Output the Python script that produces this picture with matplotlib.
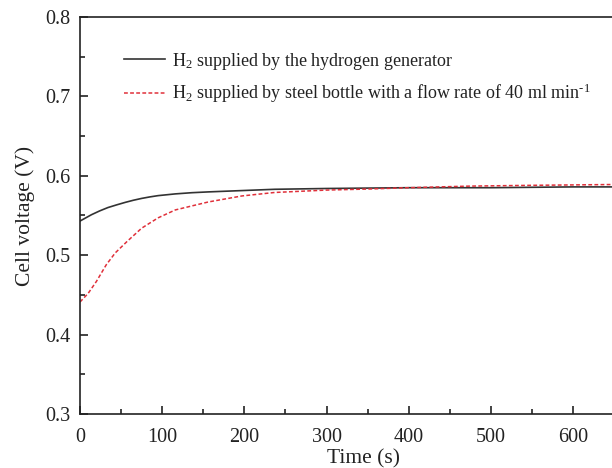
import numpy as np
import matplotlib
matplotlib.use("Agg")
import matplotlib.pyplot as plt
from matplotlib.ticker import MultipleLocator

plt.rcParams['font.family'] = ['Liberation Serif', 'DejaVu Serif']
plt.rcParams['mathtext.fontset'] = 'custom'
plt.rcParams['mathtext.rm'] = 'Liberation Serif'
plt.rcParams['mathtext.it'] = 'Liberation Serif:italic'

# hydrogen generator
t_gen = [0, 7, 14, 24, 34, 45, 55, 65, 75, 85, 95, 116, 136, 156, 200, 237,
         300, 400, 500, 600, 690]
v_gen = [0.543, 0.547, 0.551, 0.5558, 0.560, 0.5635, 0.5665, 0.5692,
         0.5715, 0.5734, 0.575, 0.5772, 0.5787, 0.5797, 0.5815, 0.583,
         0.584, 0.585, 0.585, 0.586, 0.586]

# steel bottle, 40 ml/min
t_bot = [0, 10, 20, 32, 43, 57, 75, 95, 116, 156, 197, 237, 300, 353, 400,
         474, 550, 647, 690]
v_bot = [0.441, 0.452, 0.467, 0.488, 0.503, 0.517, 0.534, 0.547, 0.557,
         0.567, 0.5746, 0.579, 0.582, 0.5834, 0.585, 0.587, 0.588, 0.589,
         0.589]

label_gen = "H$_2$ supplied by the hydrogen generator"
label_bot = "H$_2$ supplied by steel bottle with a flow rate of 40 ml min$^{\\text{-1}}$"

fig = plt.figure(figsize=(6.12, 4.68), dpi=100)
ax = fig.add_axes([0.1307, 0.1154, 0.9265, 0.8483])

ax.plot(t_gen, v_gen, color='#333333', linewidth=1.2, label=label_gen)
ax.plot(t_bot, v_bot, color='#e0303a', linewidth=1.1,
        linestyle=(0, (2.5, 1.5)), label=label_bot)

ax.set_xlim(0, 690)
ax.set_ylim(0.3, 0.8)
ax.xaxis.set_minor_locator(MultipleLocator(50))
ax.yaxis.set_major_locator(MultipleLocator(0.1))
ax.yaxis.set_minor_locator(MultipleLocator(0.05))
ax.set_xticks([0, 100, 200, 300, 400, 500, 600])

ax.tick_params(which='both', direction='in', top=False, right=False,
               labelsize=14.5, colors='#222222', width=1.2)
ax.tick_params(which='major', length=6)
ax.tick_params(axis='y', which='major', pad=7)
ax.tick_params(axis='x', which='major', pad=10)
ax.tick_params(which='minor', length=3.5)
for s in ax.spines.values():
    s.set_linewidth(1.2)
    s.set_color('#222222')

ax.set_xlabel("Time (s)", fontsize=15.5, color='#222222', labelpad=2)
ax.set_ylabel("Cell voltage (V)", fontsize=15.5, color='#222222', labelpad=7)

leg = ax.legend(loc='upper left', bbox_to_anchor=(0.0776, 0.915), frameon=False,
                fontsize=13, handlelength=2.25, handletextpad=0.4,
                labelspacing=0.55, borderaxespad=0, borderpad=0)
for txt in leg.get_texts():
    txt.set_color('#222222')

fig.savefig("out.png", dpi=100)
